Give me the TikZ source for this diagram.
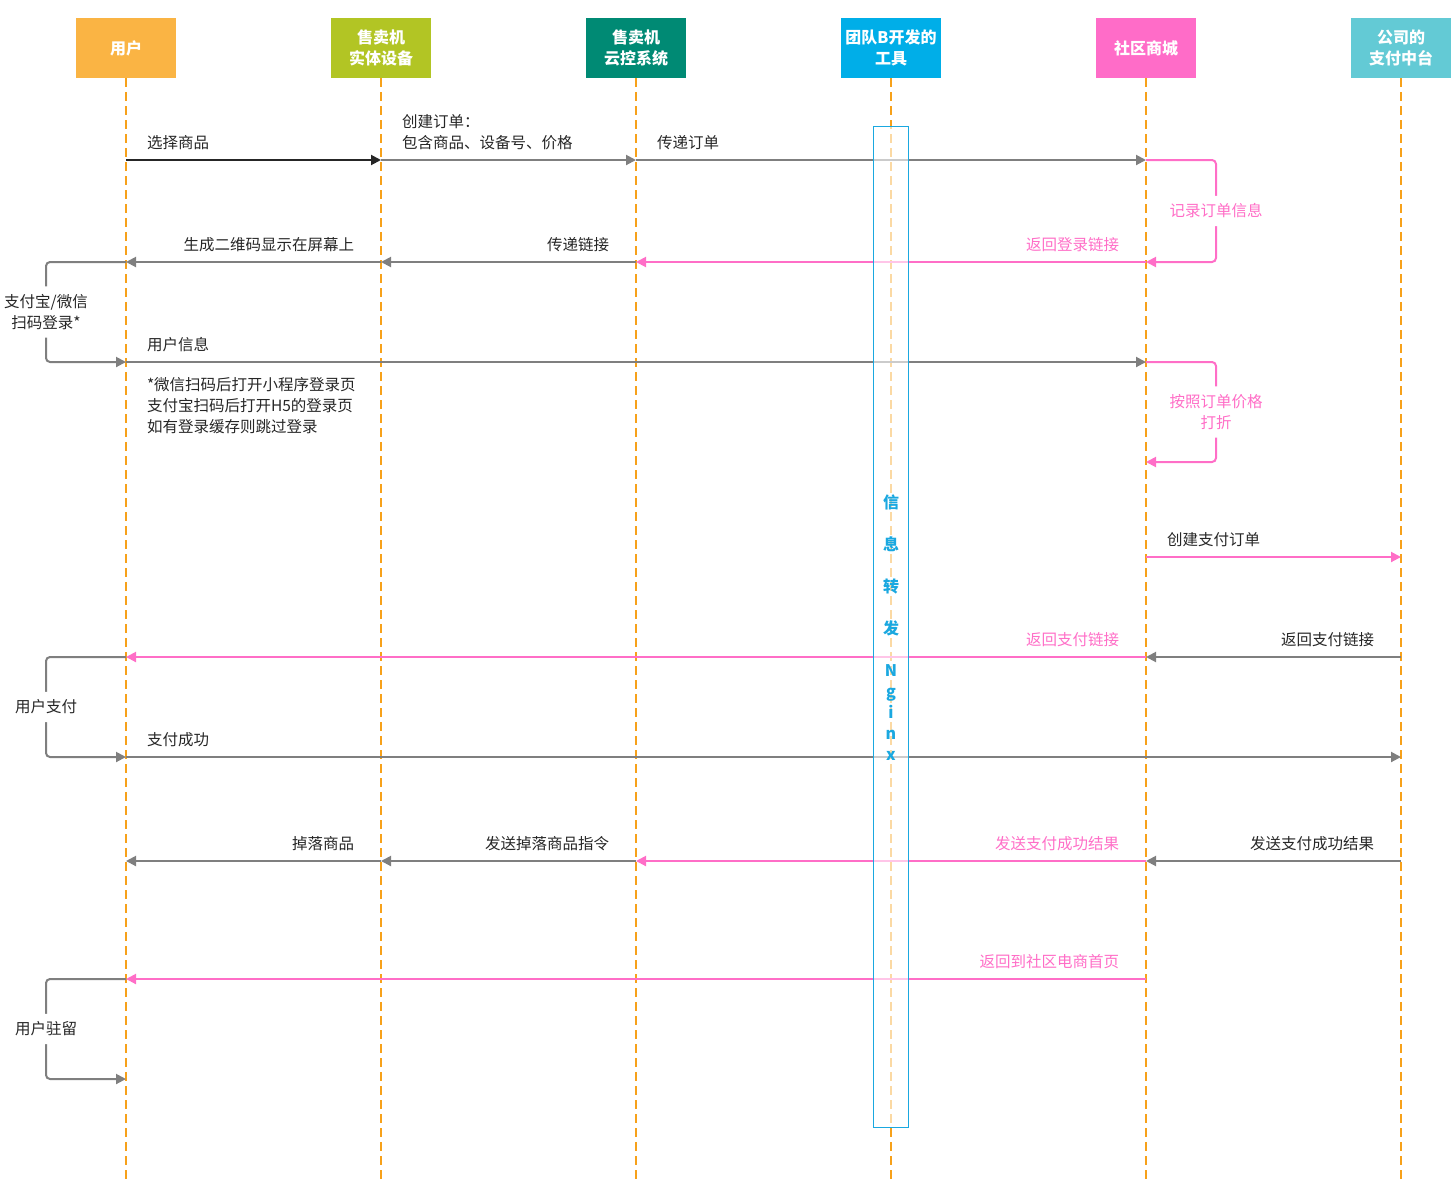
\documentclass[tikz,border=0pt]{standalone}
\usepackage{fontspec}
\setmainfont{Noto Sans CJK SC}
\usepackage{xcolor}
\usepackage{tikz}
\usetikzlibrary{positioning, arrows.meta}

\definecolor{usrC}{HTML}{FAB444}
\definecolor{vmC}{HTML}{B2C524}
\definecolor{cloudC}{HTML}{008A74}
\definecolor{toolC}{HTML}{00AEE8}
\definecolor{mallC}{HTML}{FF6CC8}
\definecolor{payC}{HTML}{63CAD5}
\definecolor{lifeC}{HTML}{F7A11A}
\definecolor{msgC}{HTML}{7F7F7F}
\definecolor{txtC}{HTML}{262626}
\definecolor{pinkC}{HTML}{FF6EC7}
\definecolor{nginxC}{HTML}{1AA8E0}

\tikzset{
  actor/.style={minimum width=100pt, minimum height=60pt, inner sep=0pt, outer sep=0pt,
    text=white, align=center, font=\bfseries\fontsize{16}{21}\selectfont},
  life/.style={draw=lifeC, line width=1.3pt, dash pattern=on 9pt off 5pt},
  msg/.style={draw=msgC, line width=2pt, -{Triangle[length=10pt,width=10pt]}},
  msgpink/.style={msg, draw=pinkC},
  lbl/.style={text=txtC, inner sep=0pt, font=\fontsize{15.5}{21}\selectfont},
  lblR/.style={lbl, pos=0, anchor=south west, xshift=20pt, yshift=9pt},
  lblL/.style={lbl, pos=0, anchor=south east, xshift=-26pt, yshift=9pt},
  note/.style={lbl, pos=0, anchor=north west, align=left, xshift=20pt, yshift=-14pt},
  looptxt/.style={lbl, midway, fill=white, inner sep=8pt, align=center},
  nginx/.style={draw=nginxC, line width=1.3pt, fill=white, fill opacity=0.6, text opacity=1,
    minimum width=35pt, minimum height=1001pt, inner sep=0pt, text=nginxC, align=center,
    font=\bfseries\fontsize{16}{21}\selectfont}
}

\begin{document}
\begin{tikzpicture}[x=1pt, y=-1pt]
    \useasboundingbox (0,0) rectangle (1451,1179);

    \node[actor, fill=usrC] (usr) at (126,48) {用户};
    \node[actor, fill=vmC, right=155pt of usr] (vm) {售卖机\\实体设备};
    \node[actor, fill=cloudC, right=155pt of vm] (cloud) {售卖机\\云控系统};
    \node[actor, fill=toolC, right=155pt of cloud] (tool) {团队B开发的\\工具};
    \node[actor, fill=mallC, right=155pt of tool] (mall) {社区商城};
    \node[actor, fill=payC, right=155pt of mall] (pay) {公司的\\支付中台};

    \coordinate (bot) at (0,1179);
    \foreach \a in {usr,vm,cloud,tool,mall,pay}
        \draw[life] (\a.south) -- (\a.south |- bot);

    % message rows
    \coordinate (r1) at (0,160);
    \coordinate (r2) at (0,262);
    \coordinate (r3) at (0,362);
    \coordinate (r4) at (0,462);
    \coordinate (r5) at (0,557);
    \coordinate (r6) at (0,657);
    \coordinate (r7) at (0,757);
    \coordinate (r8) at (0,861);
    \coordinate (r9) at (0,979);
    \coordinate (r10) at (0,1079);

    \path
    (usr |- r1) edge[msg, draw=txtC] node[lblR] {选择商品} (vm |- r1)
    (vm |- r1) edge[msg] node[lblR, align=left] {创建订单：\\包含商品、设备号、价格} (cloud |- r1)
    (cloud |- r1) edge[msg] node[lblR] {传递订单} (mall |- r1)
    (mall |- r2) edge[msgpink] node[lblL, text=pinkC] {返回登录链接} (cloud |- r2)
    (cloud |- r2) edge[msg] node[lblL] {传递链接} (vm |- r2)
    (vm |- r2) edge[msg] node[lblL] {生成二维码显示在屏幕上} (usr |- r2)
    (usr |- r3) edge[msg] node[lblR] {用户信息}
        node[note] {*微信扫码后打开小程序登录页\\支付宝扫码后打开H5的登录页\\如有登录缓存则跳过登录} (mall |- r3)
    (mall |- r5) edge[msgpink] node[lblR] {创建支付订单} (pay |- r5)
    (pay |- r6) edge[msg] node[lblL] {返回支付链接} (mall |- r6)
    (mall |- r6) edge[msgpink] node[lblL, text=pinkC] {返回支付链接} (usr |- r6)
    (usr |- r7) edge[msg] node[lblR] {支付成功} (pay |- r7)
    (pay |- r8) edge[msg] node[lblL] {发送支付成功结果} (mall |- r8)
    (mall |- r8) edge[msgpink] node[lblL, text=pinkC] {发送支付成功结果} (cloud |- r8)
    (cloud |- r8) edge[msg] node[lblL] {发送掉落商品指令} (vm |- r8)
    (vm |- r8) edge[msg] node[lblL] {掉落商品} (usr |- r8)
    (mall |- r9) edge[msgpink] node[lblL, text=pinkC] {返回到社区电商首页} (usr |- r9);

    % self loops
    \draw[msgpink, rounded corners=4pt] (mall |- r1) -- ++(70,0)
        -- node[looptxt, text=pinkC] {记录订单信息} ++(0,102) -- (mall |- r2);
    \draw[msgpink, rounded corners=4pt] (mall |- r3) -- ++(70,0)
        -- node[looptxt, text=pinkC] {按照订单价格\\打折} ++(0,100) -- (mall |- r4);
    \draw[msg, rounded corners=4pt] (usr |- r2) -- ++(-80,0)
        -- node[looptxt] {支付宝/微信\\扫码登录*} ++(0,100) -- (usr |- r3);
    \draw[msg, rounded corners=4pt] (usr |- r6) -- ++(-80,0)
        -- node[looptxt] {用户支付} ++(0,100) -- (usr |- r7);
    \draw[msg, rounded corners=4pt] (usr |- r9) -- ++(-80,0)
        -- node[looptxt] {用户驻留} ++(0,100) -- (usr |- r10);

    \node[nginx, below=48pt of tool] (ngx)
        {信\\[21pt]息\\[21pt]转\\[21pt]发\\[21pt]N\\g\\i\\n\\x};

\end{tikzpicture}
\end{document}
